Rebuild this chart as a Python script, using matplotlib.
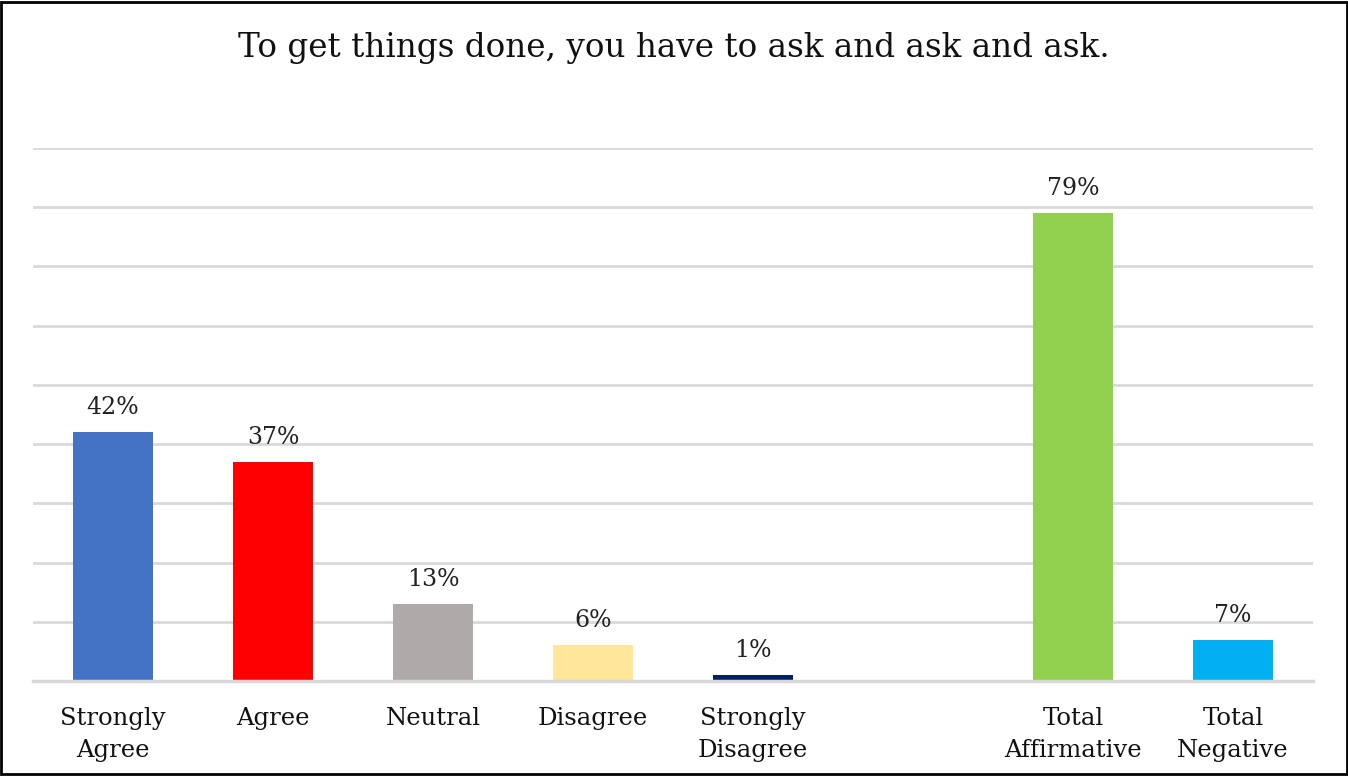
#!/usr/bin/env python3
# coding=utf-8

import matplotlib
matplotlib.use('Agg')
import matplotlib.pyplot as plt
from matplotlib.patches import Rectangle

categories = ['Strongly\nAgree', 'Agree', 'Neutral', 'Disagree', 'Strongly\nDisagree', '',
              'Total\nAffirmative', 'Total\nNegative']
values = [42, 37, 13, 6, 1, None, 79, 7]
colors = ['#4472C4', '#FF0000', '#AEAAAA', '#FFE699', '#002060', 'none', '#92D050', '#00B0F0']
title = 'To get things done, you have to ask and ask and ask.'

plt.rcParams['font.family'] = ['DejaVu Serif']

fig = plt.figure(figsize=(13.48, 7.76), dpi=100)
ax = fig.add_axes([33 / 1348, 95 / 776, 1280 / 1348, 533 / 776])

xs = list(range(len(categories)))
for x, v, c in zip(xs, values, colors):
    if v is None:
        continue
    ax.bar(x, v, width=0.5, color=c, zorder=3)
    ax.text(x, v + 2.2, f'{v}%', ha='center', va='bottom', fontsize=17, color='#222222')

ax.set_xlim(-0.5, len(categories) - 0.5)
ax.set_ylim(0, 90)
ax.set_yticks(range(10, 91, 10))
ax.yaxis.grid(True, color='#D9D9D9', linewidth=2, zorder=0)
ax.axhline(0, color='#D9D9D9', linewidth=2.5, zorder=4, clip_on=False)
ax.tick_params(axis='y', left=False, labelleft=False)
ax.tick_params(axis='x', bottom=False, pad=15)
ax.set_xticks(xs)
ax.set_xticklabels(categories, fontsize=17.5, color='#111111', linespacing=1.5)
for s in ax.spines.values():
    s.set_visible(False)

fig.text(0.5, 1 - 48 / 776, title, ha='center', va='center', fontsize=23.5, color='#111111')

# black frame around whole picture
fig.patches.append(Rectangle((0.001, 0.002), 0.998, 0.996, transform=fig.transFigure,
                             fill=False, edgecolor='black', linewidth=2))

fig.savefig('out.png', dpi=100)
